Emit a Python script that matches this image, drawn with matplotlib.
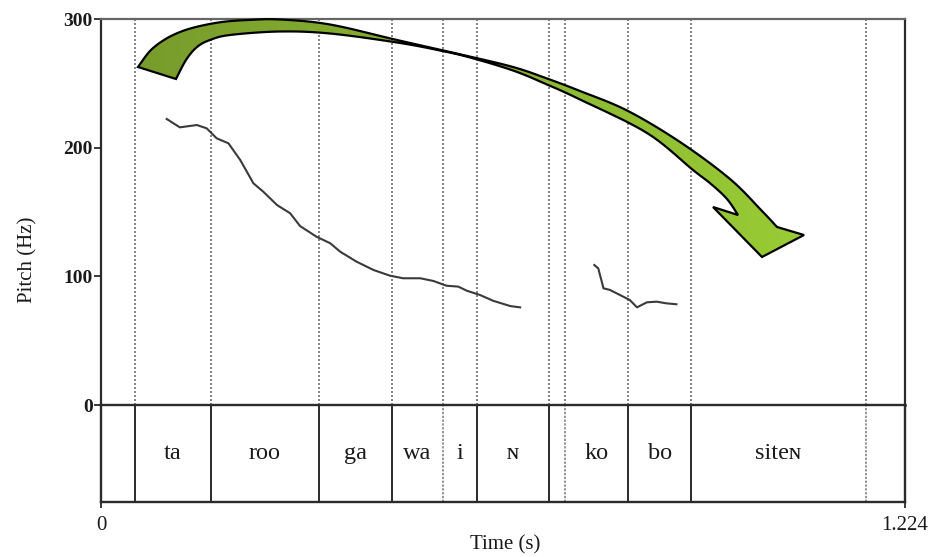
import numpy as np
import matplotlib
matplotlib.use("Agg")
import matplotlib.pyplot as plt
from matplotlib.path import Path
from matplotlib.patches import PathPatch

# ---------------- data ----------------
t_seg1 = [0.100, 0.120, 0.146, 0.161, 0.176, 0.194, 0.212, 0.232, 0.247, 0.268,
          0.288, 0.303, 0.328, 0.349, 0.364, 0.389, 0.415, 0.440, 0.460, 0.486,
          0.506, 0.526, 0.544, 0.557, 0.577, 0.597, 0.623, 0.638]
f0_seg1 = [222.3, 215.8, 217.6, 215.0, 207.3, 203.4, 190.4, 172.3, 165.8, 155.4,
           149.0, 139.1, 130.8, 125.7, 119.2, 111.4, 104.9, 100.5, 98.5, 98.5,
           96.4, 92.7, 92.0, 88.8, 85.5, 81.0, 76.9, 75.9]
t_seg2 = [0.751, 0.757, 0.765, 0.775, 0.790, 0.805, 0.816, 0.831, 0.846, 0.861, 0.876]
f0_seg2 = [108.8, 106.2, 90.7, 89.4, 85.5, 81.6, 75.9, 79.8, 80.3, 79.0, 78.3]

bounds = [0.0, 0.052, 0.167, 0.332, 0.4425, 0.520, 0.573, 0.682, 0.706, 0.803,
          0.898, 1.164, 1.224]
labels = ["", "ta", "roo", "ga", "wa", "i", "\u0274", "", "ko", "bo", "site\u0274", ""]
faint_bounds = [0.520, 0.706, 1.164]

y_ticks = [0, 100, 200, 300]
x_ticks = [0, 1.224]
x_tick_labels = ["0", "1.224"]

# ---------------- figure ----------------
W, H = 930, 557
fig = plt.figure(figsize=(W / 100, H / 100), dpi=100)
serif = ["Liberation Serif", "DejaVu Serif"]

L, R = 101, 905
T, MID, B = 19, 405, 502

def fx(px):
    return px / W

def fy(py):
    return 1 - py / H

ax = fig.add_axes([fx(L), fy(MID), fx(R) - fx(L), fy(T) - fy(MID)])
tier = fig.add_axes([fx(L), fy(B), fx(R) - fx(L), fy(MID) - fy(B)], sharex=ax)

dark = "#2b2b2b"
txt = "#1a1a1a"
xmax = bounds[-1]

# pitch panel
ax.set_xlim(0, xmax)
ax.set_ylim(0, 300)
for b in bounds[1:-1]:
    ax.axvline(b, color="#707070", lw=1.2, ls=(0, (1.2, 1.2)), zorder=1)
ax.plot(t_seg1, f0_seg1, color="#3a3a3a", lw=1.5, zorder=3)
ax.plot(t_seg2, f0_seg2, color="#3a3a3a", lw=1.5, zorder=3)
ax.set_yticks(y_ticks)
ax.set_yticklabels([str(v) for v in y_ticks], fontfamily=serif, fontsize=14,
                   fontweight="bold", color=txt)
ax.tick_params(axis="y", direction="out", length=5, width=1.3, color=dark, pad=1)
ax.tick_params(axis="x", bottom=False, labelbottom=False)
for s in ["left", "right"]:
    ax.spines[s].set_color(dark)
    ax.spines[s].set_linewidth(1.6)
ax.spines["top"].set_color("#666666")
ax.spines["top"].set_linewidth(1.6)
ax.spines["bottom"].set_color(dark)
ax.spines["bottom"].set_linewidth(1.8)

# text tier
tier.set_ylim(0, 1)
tier.set_yticks([])
for b in bounds[1:-1]:
    if b in faint_bounds:
        tier.axvline(b, color="#777777", lw=1.1, ls=(0, (1.5, 1)))
    else:
        tier.axvline(b, color=dark, lw=1.4)
for i, lab in enumerate(labels):
    if lab:
        tier.text((bounds[i] + bounds[i + 1]) / 2, 0.5, lab, ha="center", va="center",
                  fontfamily=serif, fontsize=17.5, color=txt)
tier.set_xticks(x_ticks)
tier.set_xticklabels(x_tick_labels, fontfamily=serif, fontsize=15, color=txt)
tier.tick_params(axis="x", direction="out", length=4, width=1.3, color=dark, pad=6)
for s in tier.spines.values():
    s.set_color(dark)
    s.set_linewidth(1.7)

fig.text(fx(505), fy(545), "Time (s)", ha="center", va="center",
         fontfamily=serif, fontsize=15, color=txt)
fig.text(fx(28), fy(260), "Pitch (Hz)", rotation=90, ha="center", va="center",
         fontfamily=serif, fontsize=15, color=txt)

# ---------------- decorative curved arrow ----------------
over = fig.add_axes([0, 0, 1, 1], zorder=10)
over.set_xlim(0, W)
over.set_ylim(H, 0)
over.axis("off")
over.patch.set_alpha(0)

def smooth(pts, n=12):
    pts = np.asarray(pts, float)
    P = np.vstack([pts[0], pts, pts[-1]])
    out = []
    for i in range(1, len(P) - 2):
        p0, p1, p2, p3 = P[i - 1], P[i], P[i + 1], P[i + 2]
        for s in np.linspace(0, 1, n, endpoint=False):
            s2, s3 = s * s, s * s * s
            out.append(0.5 * ((2 * p1) + (-p0 + p2) * s + (2 * p0 - 5 * p1 + 4 * p2 - p3) * s2
                              + (-p0 + 3 * p1 - 3 * p2 + p3) * s3))
    out.append(pts[-1])
    return np.array(out)

outer = [(138, 67), (150, 51), (164, 40), (180, 32), (198, 26.5), (222, 22), (248, 20),
         (280, 19.5), (330, 24.5), (397, 40), (463, 55), (513, 67), (547, 78.5),
         (580, 91), (627, 110.5), (680, 142), (730, 179), (762, 211), (777, 227)]
head = [(804, 235), (762, 257), (713, 207), (738, 215)]
inner = [(738, 215), (727, 199), (711, 184), (693, 170), (647, 133), (580, 99.5),
         (547, 84.5), (513, 70.5), (470, 57.5), (440, 50.5), (397, 42.5), (330, 33.5),
         (280, 31.5), (230, 35), (210, 40), (197, 47), (186, 60), (176, 79)]

verts = np.vstack([smooth(outer), np.array(head[:-1]), smooth(inner)])
verts = np.vstack([verts, verts[0]])
codes = [Path.MOVETO] + [Path.LINETO] * (len(verts) - 2) + [Path.CLOSEPOLY]
arrow_path = Path(verts, codes)

grad = np.linspace(0, 1, 256)[None, :]
c0 = np.array([0.47, 0.61, 0.17])
c1 = np.array([0.60, 0.80, 0.21])
img = c0[None, None, :] * (1 - grad[..., None]) + c1[None, None, :] * grad[..., None]
im = over.imshow(img, extent=[130, 810, 262, 12], aspect="auto", zorder=10,
                 interpolation="bilinear")
clip = PathPatch(arrow_path, transform=over.transData, facecolor="none", edgecolor="none")
over.add_patch(clip)
im.set_clip_path(clip)
over.add_patch(PathPatch(arrow_path, facecolor="none", edgecolor="black", lw=1.6,
                         joinstyle="miter", zorder=11))
over.set_xlim(0, W)
over.set_ylim(H, 0)

fig.savefig("out.png", dpi=100)
